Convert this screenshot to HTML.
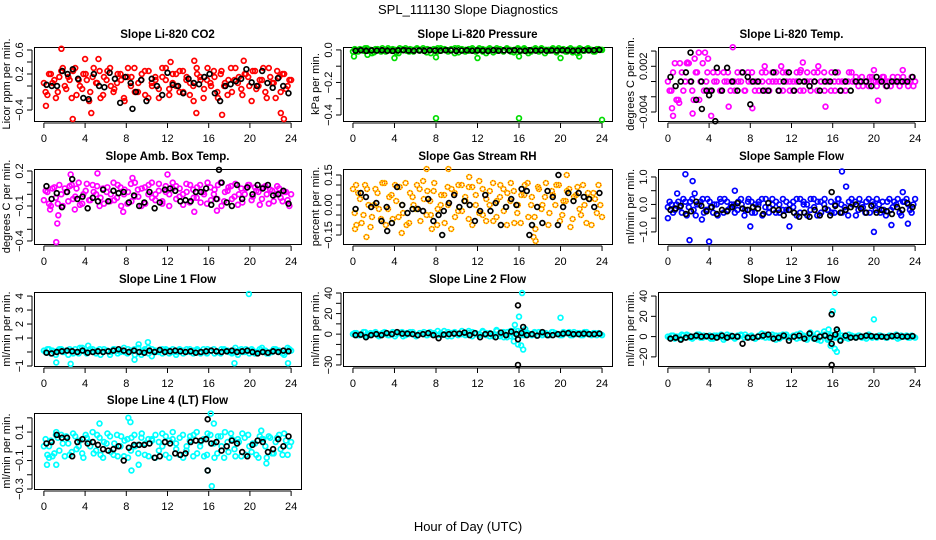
<!DOCTYPE html>
<html><head><meta charset="utf-8"><style>
html,body{margin:0;padding:0;background:#fff}
svg{display:block;font-family:"Liberation Sans",Arial,sans-serif}
</style></head><body>
<svg id="chart" width="936" height="540" viewBox="0 0 936 540" xmlns="http://www.w3.org/2000/svg">
<text x="468" y="14" text-anchor="middle" font-size="13">SPL_111130  Slope Diagnostics</text>
<text x="468" y="531" text-anchor="middle" font-size="13">Hour of Day (UTC)</text>
</svg>
<script>
const xTicks=[0,4,8,12,16,20,24];
// ---- Panel 1: CO2 ----
const co2Vals=[0.05,-0.15,0.2,0.1,-0.1,0.25,0.0,0.15,-0.2,0.3,0.1,-0.05,0.2,-0.25,0.15,0.05,0.25,-0.15,0.1,0.3,-0.1,0.05,0.2,-0.2,0.15,0.0,0.3,-0.1,0.1,0.25,-0.2,0.05,0.15,-0.05,0.3,0.1,-0.15,0.2,0.0,0.25,-0.1,0.15,0.05,-0.25,0.2,0.1,-0.05,0.3,0.0,0.15,-0.2,0.25,0.05,0.1,-0.1,0.3,0.15,-0.15,0.2,0.0,0.25,-0.05,0.1,0.3,-0.2,0.15,0.05,0.25,-0.1,0.2,0.0,0.1];
const co2Vals2=[-0.1,0.2,0.05,-0.2,0.15,0.3,-0.05,0.1,0.25,-0.15,0.0,0.2,0.1,-0.1,0.3,0.05,-0.2,0.15,0.25,0.0,-0.05,0.2,0.1,-0.25,0.3,0.15,-0.1,0.05,0.2,-0.15,0.25,0.0,0.1,-0.2,0.15,0.3,-0.05,0.05,0.2,-0.1,0.25,0.1,-0.15,0.0,0.3,0.15,-0.2,0.1,0.05,0.25,-0.1,0.2,0.0,-0.15,0.3,0.1,0.05,-0.05,0.2,0.15,-0.25,0.25,0.0,0.1,-0.1,0.3,0.05,-0.2,0.15,0.2,-0.05,0.1];
const co2OutH=[0.2,1.7,2.8,4.0,4.6,5.3,12.3,14.6,14.8,17.3,19.4,23.0,23.3];
const co2OutV=[-0.33,0.62,-0.55,0.45,-0.45,0.45,0.4,0.42,-0.45,-0.48,0.42,-0.45,-0.55];
const co2Black=[0.02,0.0,0.0,0.25,0.2,0.28,0.12,-0.2,-0.22,0.2,0.0,-0.02,0.22,0.12,-0.28,0.15,0.05,-0.1,0.1,-0.25,0.12,0.0,-0.15,0.22,0.02,0.0,-0.12,0.12,0.05,0.03,0.15,0.2,-0.12,-0.25,0.0,0.03,0.08,0.12,0.28,0.06,0.0,0.25,0.05,-0.03,0.13,0.0,-0.12];
const co2BlkOutH=[8.6];
const co2BlkOutV=[-0.38];
// ---- Panel 2: Pressure ----
const presVals=[-0.01,0.0,0.005,-0.005,0.01,0.0,-0.015,0.005,-0.01,0.0,0.01,-0.005,0.0,-0.02,0.005,0.01,-0.01,0.0,0.005,-0.005,0.01,-0.015,0.0,0.005,-0.01,0.01,0.0,-0.005,0.005,-0.02,0.01,0.0,-0.01,0.005,0.0,-0.005,0.01,-0.01,0.0,0.005,-0.015,0.01,0.0,-0.005,0.005,-0.01,0.0,0.01,-0.005,0.005,-0.02,0.0,0.01,-0.01,0.005,0.0,-0.005,0.01,-0.015,0.0,0.005,-0.01,0.01,0.0,-0.02,0.005,-0.005,0.01,0.0,-0.01,0.005,0.0];
const presVals2=[0.005,-0.01,0.0,0.01,-0.005,-0.02,0.005,0.0,0.01,-0.01,0.0,0.005,-0.015,0.01,0.0,-0.005,0.005,-0.01,0.01,0.0,-0.005,0.005,-0.02,0.0,0.01,-0.005,0.005,-0.01,0.0,0.01,-0.015,0.005,0.0,-0.005,0.01,-0.01,0.0,0.005,-0.02,0.01,0.0,-0.005,0.005,-0.01,0.01,0.0,-0.015,0.005,0.0,0.01,-0.005,-0.01,0.005,0.0,0.01,-0.02,0.0,0.005,-0.005,0.01,0.0,-0.01,0.005,-0.015,0.0,0.01,-0.005,0.005,0.0,-0.01,0.005,0.0];
const presOutH=[8.0,16.0,24.0,0.1,4.0,8.0,12.0,16.0,20.0,1.4,21.8];
const presOutV=[-0.42,-0.42,-0.43,-0.04,-0.05,-0.045,-0.05,-0.04,-0.05,-0.03,-0.04];
const presBlack=[-0.005,-0.002,-0.006,-0.003,-0.004,-0.002,-0.005,-0.006,-0.003,-0.002,-0.004,-0.005,-0.003,-0.006,-0.002,-0.004,-0.005,-0.002,-0.003,-0.006,-0.004,-0.002,-0.005,-0.003,-0.004,-0.006,-0.002,-0.005,-0.003,-0.004,-0.002,-0.005,-0.006,-0.003,-0.004,-0.002,-0.005,-0.003,-0.004,-0.002,-0.003,-0.005,-0.004,-0.002,-0.003,-0.002,0.0];
const presBlkOutH=[];
const presBlkOutV=[];
// ---- Panel 3: Temp ----
const tempVals=[0.0,-0.0012,0.0024,-0.0024,0.0012,0.0,0.0024,-0.0012,0.0012,-0.0024,0.0024,0.0,-0.0012,0.0012,0.0,-0.0012,0.0012,0.0,-0.0012,0.0,0.0012,0.0,-0.0012,0.0012,0.0,-0.0012,0.0,0.0012,-0.0012,0.0,0.0012,0.0,-0.0012,0.0012,0.0,-0.0012,0.0,0.0012,-0.0012,0.0,0.0012,-0.0012,0.0,0.0012,0.0,-0.0012,0.0,0.0012,-0.0012,0.0,0.0,-0.0012,0.0012,0.0,0.0006,0.0,-0.0006,0.0,0.0006,0.0,-0.0006,0.0,0.0006,0.0,-0.0006,0.0,0.0006,0.0,0.0,-0.0006,0.0006,0.0];
const tempVals2=[-0.0012,0.0012,-0.0024,0.0024,-0.0012,0.0024,0.0,-0.0024,0.0012,0.0,-0.0012,0.0012,-0.0012,0.0,0.0012,-0.0012,0.0,0.0012,0.0,-0.0012,0.0,0.0012,-0.0012,0.0,0.0012,0.0,-0.0012,0.0,0.0012,-0.0012,0.0,0.0012,0.0,-0.0012,0.0012,0.0,-0.0012,0.0,0.0012,-0.0012,0.0,0.0,0.0012,-0.0012,0.0,0.0012,0.0,-0.0012,0.0,0.0012,-0.0012,0.0,0.0,0.0012,0.0,-0.0006,0.0006,0.0,-0.0006,0.0006,0.0,0.0,0.0006,-0.0006,0.0,0.0006,0.0,-0.0006,0.0006,0.0,0.0,-0.0006];
const tempOutH=[0.5,0.4,1.1,3.0,2.6,3.6,5.9,6.3,4.2,8.2,9.4,11.0,13.1,12.9,14.6,20.0,20.4,22.8,15.3,2.4,1.9,3.9];
const tempOutV=[-0.0045,-0.0035,-0.0028,0.0038,0.003,0.0038,-0.0033,0.0045,-0.0045,-0.0035,0.002,0.002,0.0025,0.0015,0.002,0.0015,-0.0025,0.0015,-0.0033,-0.0042,0.0025,0.003];
const tempBlack=[0.0006,-0.0006,0.0,0.0012,0.0,-0.0024,0.0,-0.0012,-0.0012,0.0018,-0.0012,0.0018,0.0,-0.0012,0.0012,0.0006,0.0,0.0,-0.0012,-0.0012,0.0012,-0.0012,0.0,0.0012,-0.0012,0.0,0.0,-0.0006,0.0,-0.0012,0.0,0.0,0.0012,-0.0012,0.0,-0.0012,0.0,0.0,0.0,-0.0006,0.0006,0.0,-0.0006,0.0,0.0,0.0,0.0,0.0006];
const tempBlkOutH=[2.2,4.6,8.0,3.3,4.0];
const tempBlkOutV=[0.0038,-0.0052,-0.003,-0.0036,-0.0018];
// ---- Panel 4: Amb box temp ----
const ambVals=[-0.05,0.02,-0.1,0.06,-0.08,0.0,0.05,-0.06,0.08,-0.02,0.1,-0.08,0.03,-0.05,0.08,0.0,-0.1,0.05,0.02,-0.06,0.1,-0.03,0.06,0.0,-0.08,0.09,-0.02,0.04,-0.1,0.06,0.0,0.1,-0.05,0.03,-0.08,0.07,0.0,0.1,-0.04,0.05,-0.09,0.02,0.08,-0.03,0.06,-0.07,0.0,0.1,-0.05,0.04,0.08,-0.1,0.02,0.06,-0.04,0.09,0.0,-0.07,0.05,0.08,-0.02,0.03,-0.09,0.06,0.0,0.04,-0.06,0.07,-0.03,0.02,-0.05,0.0];
const ambVals2=[0.03,-0.08,0.05,-0.03,0.08,-0.1,0.02,0.07,-0.04,0.05,-0.09,0.0,0.09,-0.05,0.02,0.07,-0.03,-0.08,0.06,0.0,-0.05,0.08,-0.1,0.04,0.02,-0.06,0.1,-0.02,0.05,-0.08,0.08,-0.03,0.0,0.09,-0.06,0.02,-0.1,0.05,0.07,-0.02,0.0,0.09,-0.07,0.04,-0.03,0.08,0.02,-0.08,0.06,0.0,-0.04,0.1,-0.06,0.03,0.07,-0.02,-0.09,0.05,0.0,0.08,-0.05,0.06,0.02,-0.04,0.07,-0.08,0.03,0.0,0.05,-0.06,0.02,-0.1];
const ambOutH=[1.2,1.3,1.4,2.6,5.2,7.7,8.6,12.0,14.6,16.8,0.6,3.0];
const ambOutV=[-0.41,-0.25,-0.18,0.17,0.18,-0.15,0.14,0.17,-0.15,-0.14,-0.13,-0.13];
const ambBlack=[0.07,-0.04,0.01,-0.11,0.02,0.13,-0.04,-0.02,-0.12,-0.03,-0.06,0.04,-0.06,0.03,0.01,0.02,-0.07,-0.01,-0.1,-0.07,0.02,-0.12,-0.07,0.04,0.05,0.03,-0.06,-0.05,-0.06,0.02,0.02,0.05,-0.09,-0.04,0.1,-0.07,-0.1,0.08,-0.04,0.06,0.0,0.08,0.05,0.08,-0.01,0.0,0.03,-0.08];
const ambBlkOutH=[17.0];
const ambBlkOutV=[0.21];
// ---- Panel 5: Gas stream RH ----
const rhVals=[0.08,-0.1,0.03,-0.05,0.08,-0.11,0.0,0.06,-0.07,0.11,-0.02,0.05,0.1,-0.06,0.0,0.11,-0.09,0.04,-0.02,0.08,0.12,-0.05,0.02,0.07,-0.1,0.0,0.05,0.09,-0.12,0.06,-0.03,0.1,0.04,-0.07,0.09,0.0,0.12,-0.05,0.03,0.07,-0.08,0.02,0.1,-0.03,0.06,0.11,-0.09,0.0,0.05,0.1,-0.06,0.04,-0.12,0.08,0.0,0.11,-0.04,0.05,0.1,-0.08,0.02,0.07,-0.11,0.04,0.09,-0.05,0.0,0.06,-0.1,0.03,0.1,-0.06];
const rhVals2=[-0.04,0.06,-0.09,0.1,0.0,-0.06,0.08,-0.02,0.11,-0.1,0.04,-0.07,0.02,0.09,-0.04,-0.1,0.06,0.0,0.1,-0.08,0.03,0.07,-0.05,0.11,-0.02,0.05,-0.09,0.0,0.08,-0.06,0.1,-0.03,0.02,0.09,-0.1,0.05,-0.04,0.08,-0.08,0.0,0.11,-0.06,0.04,0.08,-0.1,0.02,0.07,-0.04,-0.09,0.05,0.11,0.0,-0.06,0.09,-0.02,0.04,-0.1,0.07,0.0,0.1,-0.05,0.02,0.08,-0.07,0.05,-0.02,0.1,-0.09,0.03,0.06,-0.04,0.0];
const rhOutH=[7.1,9.2,1.3,4.7,17.6,17.4,0.2,20.6,0.3,11.2,7.6];
const rhOutV=[0.18,0.18,-0.16,-0.14,-0.18,-0.16,-0.12,0.15,0.1,0.14,-0.12];
const rhBlack=[-0.02,0.06,0.04,-0.01,0.01,-0.08,-0.01,-0.09,0.09,0.0,-0.04,-0.02,-0.02,-0.03,0.03,-0.08,-0.05,-0.03,0.01,0.05,-0.01,0.02,0.0,-0.08,-0.03,0.05,-0.03,0.01,-0.1,-0.01,0.03,0.0,0.08,0.07,-0.1,-0.01,-0.09,0.07,0.04,-0.1,-0.01,0.06,0.02,0.06,0.04,0.03,-0.01,0.06];
const rhBlkOutH=[19.8,8.6,3.3,17.0];
const rhBlkOutV=[0.15,-0.15,-0.13,-0.15];
// ---- Panel 6: Sample flow ----
const sfVals=[-0.1,0.0,-0.2,0.1,-0.3,0.1,-0.1,0.2,-0.4,0.0,0.2,-0.2,0.1,-0.3,0.0,0.2,-0.3,0.1,-0.1,0.0,-0.2,0.2,-0.4,0.1,0.1,-0.3,0.0,0.2,-0.1,-0.3,0.2,-0.3,0.0,-0.2,0.1,-0.2,0.1,-0.4,0.2,0.0,-0.4,0.2,-0.1,0.1,-0.3,0.2,-0.2,-0.3,0.0,0.2,-0.3,-0.2,0.1,0.0,-0.4,0.2,-0.1,0.1,-0.3,0.0,0.2,-0.3,-0.2,0.1,-0.2,0.1,0.2,-0.4,0.1,0.0,-0.3,0.2];
const sfVals2=[0.1,-0.3,0.0,-0.1,0.2,-0.4,0.1,-0.2,0.0,0.1,-0.3,0.2,-0.1,0.0,-0.4,0.1,0.2,-0.2,0.0,-0.3,0.1,0.0,-0.2,0.2,-0.3,0.0,0.1,-0.4,0.2,-0.1,0.0,0.1,-0.3,0.2,-0.2,0.0,-0.1,0.2,-0.3,0.1,0.0,-0.2,0.2,-0.4,0.1,0.0,-0.2,0.1,-0.3,0.2,0.0,-0.1,-0.4,0.2,0.1,-0.2,0.0,-0.3,0.2,0.1,-0.2,0.0,0.1,-0.4,0.2,-0.1,0.0,-0.3,0.1,0.2,-0.2,0.0];
const sfOutH=[1.7,2.1,4.0,2.4,16.9,17.3,20.0,6.5,8.0,21.7,23.3,0.0,0.9,2.6,22.8,11.8,3.3];
const sfOutV=[1.1,-1.3,-1.35,0.85,1.2,0.65,-1.0,0.5,-0.8,-0.75,-0.7,-0.5,0.4,0.4,0.45,-0.8,-0.55];
const sfBlack=[-0.2,-0.15,-0.05,-0.35,-0.25,0.1,-0.05,-0.25,-0.1,-0.35,-0.2,-0.25,-0.1,0.05,-0.15,-0.2,-0.1,-0.15,-0.35,0.05,-0.2,-0.2,-0.4,-0.2,-0.3,-0.45,-0.3,-0.45,-0.2,-0.4,-0.15,-0.4,-0.05,-0.3,-0.2,-0.1,0.0,-0.15,-0.3,-0.05,-0.3,-0.2,-0.25,-0.35,-0.1,-0.2,0.05,-0.1];
const sfBlkOutH=[15.9];
const sfBlkOutV=[0.45];
// ---- Panel 7: Line 1 flow ----
const l1Vals=[0.1,0.2,-0.1,0.0,0.1,0.2,0.0,-0.2,0.1,0.2,-0.1,0.3,0.0,0.1,0.2,-0.1,0.2,0.0,0.1,-0.2,0.2,0.1,0.0,0.3,-0.1,0.1,0.2,0.0,-0.2,0.2,0.3,-0.3,0.1,0.0,0.2,0.1,-0.1,0.2,0.0,0.1,-0.1,0.2,0.0,0.1,0.2,-0.1,0.0,0.2,0.1,-0.1,0.0,0.2,0.1,0.0,-0.1,0.3,0.1,0.0,0.2,-0.1,0.1,0.0,0.2,0.1,-0.1,0.0,0.2,0.1,0.0,-0.2,0.3,0.1];
const l1Vals2=[0.0,0.2,0.1,-0.2,0.2,0.0,0.1,0.2,-0.1,0.0,0.3,0.1,-0.1,0.2,0.0,0.1,-0.2,0.2,0.1,0.0,0.2,-0.1,0.1,0.0,0.2,0.1,-0.2,0.3,0.0,0.1,-0.1,0.2,0.0,0.1,-0.1,0.2,0.1,0.0,-0.2,0.2,0.1,0.0,0.2,-0.1,0.1,0.0,0.2,-0.1,0.1,0.2,0.0,-0.1,0.2,0.1,0.0,0.1,-0.2,0.2,0.0,0.1,0.2,-0.1,0.0,0.3,0.1,-0.1,0.0,0.2,0.1,-0.1,0.0,0.2];
const l1OutH=[1.2,2.6,18.5,19.9,23.7,10.1,9.2,8.8,4.3];
const l1OutV=[-0.75,-0.85,-0.8,4.15,-0.8,0.7,0.55,-0.55,0.45];
const l1Black=[-0.05,-0.1,0.0,0.05,0.1,0.05,0.0,0.1,-0.05,0.0,0.05,0.0,0.05,0.1,0.2,0.1,0.0,0.1,0.0,-0.05,0.1,0.0,0.15,0.0,0.05,0.1,0.05,0.0,0.05,-0.05,0.0,0.05,0.1,0.05,0.0,0.05,0.1,0.0,0.05,0.1,0.0,-0.1,0.0,-0.05,0.05,0.0,0.1,0.05];
const l1BlkOutH=[];
const l1BlkOutV=[];
// ---- Panel 8: Line 2 flow ----
const l2Vals=[0,1,-1,2,-2,1,1,-1,0,2,-1,1,-2,1,2,-1,0,2,-2,1,0,-1,2,0,-1,1,3,-2,1,2,-1,0,1,3,-2,1,0,2,-1,1,-2,3,0,-3,2,1,-2,3,-1,2,0,-1,1,2,-1,1,-1,2,0,-1,2,1,-1,2,1,-1,2,0,-1,1,1,-1];
const l2Vals2=[1,-1,0,2,-1,0,2,-2,1,0,-1,2,0,1,-2,1,2,0,-1,1,2,-1,0,1,3,-1,0,2,-2,1,0,3,-1,1,2,0,-1,3,1,-2,0,4,-2,2,-3,-2,3,-1,2,-1,1,0,2,-1,1,0,-1,2,1,0,-1,1,2,-1,0,1,-1,2,0,1,-1,0];
const l2OutH=[16.3,16.0,15.9,16.4,16.2,15.6,20.0,16.6,15.5,15.2];
const l2OutV=[40,17,-10,-15,-11,9,16,5,-7,3];
const l2Black=[-1.0,-0.5,-3.0,-1.0,0.0,-1.0,1.0,0.0,2.0,0.5,0.5,0.0,-1.0,0.0,1.0,-1.0,-4.0,-0.5,0.0,0.5,0.5,1.5,-1.0,1.0,-3.0,0.0,0.5,-3.0,1.5,-1.0,2.5,0.0,1.0,-1.0,0.0,-1.5,2.0,-1.0,-1.0,0.0,0.5,1.0,0.0,0.0,0.5,0.0,0.0,0.5];
const l2BlkOutH=[15.9,15.9,15.9,16.4];
const l2BlkOutV=[28,-30,-5,7];
// ---- Panel 9: Line 3 flow ----
const l3Vals=[0,1,-2,0,2,-1,1,-2,0,2,-1,0,1,-2,1,0,-3,2,0,-1,1,2,-1,0,1,-2,0,3,-1,0,2,-3,1,0,2,-1,1,-2,3,0,-1,2,0,-3,1,2,-2,1,-1,0,1,-1,2,0,-1,1,0,-2,1,0,-1,1,0,-1,1,0,-2,1,0,-1,1,-1];
const l3Vals2=[-1,1,0,-2,1,2,-1,0,2,-1,1,0,-2,1,0,2,-1,0,1,-2,0,1,2,-1,0,-2,1,0,2,-1,0,1,-2,2,0,-1,0,2,-1,1,-3,4,-2,3,-4,5,-3,2,0,-1,1,0,-2,1,0,1,-1,0,2,-1,0,1,0,-1,1,0,2,-1,0,1,-1,0];
const l3OutH=[16.2,16.0,16.4,16.2,15.8,20.0,15.6,16.5,16.7];
const l3OutV=[43,25,-15,-12,-9,17,7,5,-3];
const l3Black=[-2.0,-1.0,-3.0,-1.0,0.0,1.0,0.0,0.5,0.0,-1.0,1.0,-1.0,0.5,0.0,-7.0,-1.0,-1.0,0.0,1.0,2.0,-2.0,-1.0,1.0,-4.0,0.0,1.0,-2.0,3.0,-2.0,0.0,1.0,-1.0,2.0,-4.0,1.0,-1.0,-1.0,0.0,1.0,0.5,0.0,0.0,-0.5,0.5,1.0,0.0,0.0,0.5];
const l3BlkOutH=[15.9,15.9,15.9,16.4];
const l3BlkOutV=[22,-28,-7,7];
// ---- Panel 10: Line 4 flow ----
const l4Vals=[0.0,-0.06,0.04,-0.05,0.06,0.08,-0.07,0.02,-0.04,0.07,0.0,-0.05,0.08,0.03,0.1,-0.03,0.06,-0.08,0.02,0.07,-0.06,0.08,0.0,-0.07,0.05,-0.03,0.08,0.01,0.06,-0.06,0.05,0.05,-0.08,0.03,0.09,-0.06,0.04,0.1,-0.02,0.06,-0.08,0.0,0.07,0.08,-0.05,0.03,-0.07,0.09,0.02,-0.08,0.07,0.0,0.1,-0.04,0.05,-0.07,0.03,0.09,-0.06,0.0,0.02,-0.06,0.07,0.05,-0.08,0.06,-0.05,0.06,-0.02,0.09,-0.06,0.03];
const l4Vals2=[0.05,0.0,-0.07,0.08,-0.03,0.02,0.07,-0.06,0.09,-0.02,0.04,-0.08,0.06,0.0,-0.05,0.08,-0.06,0.03,0.09,-0.04,0.02,-0.07,0.07,0.04,-0.08,0.06,0.0,-0.05,0.09,0.02,-0.07,0.04,0.08,-0.03,0.0,0.07,-0.08,0.05,0.02,-0.06,0.08,-0.03,0.04,-0.07,0.1,0.0,0.05,-0.06,0.08,0.02,-0.05,0.07,-0.08,0.03,0.09,-0.02,0.05,-0.07,0.06,0.08,-0.04,0.02,-0.08,0.05,0.0,0.07,-0.05,0.03,0.08,-0.06,0.04,0.0];
const l4OutH=[0.3,0.5,1.2,5.4,8.2,8.4,16.2,16.5,16.3,15.9,21.6,9.2,8.5,1.2,21.1];
const l4OutV=[-0.13,-0.08,-0.13,0.16,0.2,0.17,0.23,0.16,-0.28,-0.17,-0.12,-0.13,-0.17,0.1,0.11];
const l4Black=[0.02,0.03,0.08,0.06,0.06,-0.07,0.03,0.05,0.02,0.03,0.01,-0.02,-0.03,-0.02,0.0,-0.1,-0.01,0.01,0.01,0.01,0.02,-0.08,-0.07,0.03,0.02,-0.05,-0.06,-0.05,0.03,0.04,0.04,0.05,0.02,0.03,-0.03,0.0,0.04,0.02,-0.04,-0.07,0.01,0.04,0.03,-0.04,-0.02,0.05,0.0,0.07];
const l4BlkOutH=[15.9,15.9];
const l4BlkOutV=[0.19,-0.17];

const svg=document.getElementById('chart');
const NS='http://www.w3.org/2000/svg';
function mk(tag,attrs,parent){const e=document.createElementNS(NS,tag);for(const k in attrs)e.setAttribute(k,attrs[k]);(parent||svg).appendChild(e);return e;}
const colL=[34,343,658], colR=[301,612,925], rowT=[47,169,292,413], rowB=[121,244,366,489];
const panels=[
 {c:0,r:0,name:'co2',title:'Slope Li-820 CO2',ylab:'Licor ppm per min.',ylim:[-0.583,0.65],ticks:[-0.4,-0.2,0,0.2,0.4,0.6],labs:[-0.4,0.2,0.6],fmt:v=>v.toFixed(1),col:'#ff0000',vals:co2Vals,vals2:co2Vals2,oh:co2OutH,ov:co2OutV,blk:co2Black,bh:co2BlkOutH,bv:co2BlkOutV},
 {c:1,r:0,name:'pressure',title:'Slope Li-820 Pressure',ylab:'kPa per min.',ylim:[-0.437,0.018],ticks:[0,-0.1,-0.2,-0.3,-0.4],labs:[0,-0.2,-0.4],fmt:v=>v.toFixed(1),col:'#00dd00',vals:presVals,vals2:presVals2,oh:presOutH,ov:presOutV,blk:presBlack,bh:presBlkOutH,bv:presBlkOutV},
 {c:2,r:0,name:'temp',title:'Slope Li-820 Temp.',ylab:'degrees C per min.',ylim:[-0.00518,0.00453],ticks:[0.004,0.002,0,-0.002,-0.004],labs:[0.002,-0.004],fmt:v=>v.toFixed(3),col:'#ff00ff',vals:tempVals,vals2:tempVals2,oh:tempOutH,ov:tempOutV,blk:tempBlack,bh:tempBlkOutH,bv:tempBlkOutV},
 {c:0,r:1,name:'amb-box-temp',title:'Slope Amb. Box Temp.',ylab:'degrees C per min.',ylim:[-0.426,0.217],ticks:[0.2,0.1,0,-0.1,-0.2,-0.3,-0.4],labs:[0.2,-0.1,-0.4],fmt:v=>v.toFixed(1),col:'#ff00ff',vals:ambVals,vals2:ambVals2,oh:ambOutH,ov:ambOutV,blk:ambBlack,bh:ambBlkOutH,bv:ambBlkOutV},
 {c:1,r:1,name:'gas-stream-rh',title:'Slope Gas Stream RH',ylab:'percent per min.',ylim:[-0.195,0.18],ticks:[0.15,0.1,0.05,0,-0.05,-0.1,-0.15],labs:[0.15,0,-0.15],fmt:v=>v.toFixed(2),col:'#ffd000',col2:'#ff4000',vals:rhVals,vals2:rhVals2,oh:rhOutH,ov:rhOutV,blk:rhBlack,bh:rhBlkOutH,bv:rhBlkOutV},
 {c:2,r:1,name:'sample-flow',title:'Slope Sample Flow',ylab:'ml/min per min.',ylim:[-1.44,1.29],ticks:[1,0.5,0,-0.5,-1],labs:[1,0,-1],fmt:v=>v.toFixed(1),col:'#0000ff',vals:sfVals,vals2:sfVals2,oh:sfOutH,ov:sfOutV,blk:sfBlack,bh:sfBlkOutH,bv:sfBlkOutV},
 {c:0,r:2,name:'line1-flow',title:'Slope Line 1 Flow',ylab:'ml/min per min.',ylim:[-1.0,4.29],ticks:[4,3,2,1,0,-1],labs:[4,3,2,1,-1],fmt:v=>String(v),col:'#00ffff',vals:l1Vals,vals2:l1Vals2,oh:l1OutH,ov:l1OutV,blk:l1Black,bh:l1BlkOutH,bv:l1BlkOutV},
 {c:1,r:2,name:'line2-flow',title:'Slope Line 2 Flow',ylab:'ml/min per min.',ylim:[-31,41],ticks:[40,30,20,10,0,-10,-20,-30],labs:[40,20,0,-30],fmt:v=>String(v),col:'#00ffff',vals:l2Vals,vals2:l2Vals2,oh:l2OutH,ov:l2OutV,blk:l2Black,bh:l2BlkOutH,bv:l2BlkOutV},
 {c:2,r:2,name:'line3-flow',title:'Slope Line 3 Flow',ylab:'ml/min per min.',ylim:[-29,44],ticks:[40,20,0,-20],labs:[40,20,0,-20],fmt:v=>String(v),col:'#00ffff',vals:l3Vals,vals2:l3Vals2,oh:l3OutH,ov:l3OutV,blk:l3Black,bh:l3BlkOutH,bv:l3BlkOutV},
 {c:0,r:3,name:'line4-flow',title:'Slope Line 4 (LT) Flow',ylab:'ml/min per min.',ylim:[-0.3,0.234],ticks:[0.2,0.1,0,-0.1,-0.2,-0.3],labs:[0.1,-0.1,-0.3],fmt:v=>v.toFixed(1),col:'#00ffff',vals:l4Vals,vals2:l4Vals2,oh:l4OutH,ov:l4OutV,blk:l4Black,bh:l4BlkOutH,bv:l4BlkOutV}
];
panels.forEach(p=>{
 const L=colL[p.c],R=colR[p.c],T=rowT[p.r],B=rowB[p.r],W=R-L;
 const xs=h=>L+(h+0.96)/25.92*W;
 const ys=v=>B-(v-p.ylim[0])/(p.ylim[1]-p.ylim[0])*(B-T);
 const g=mk('g',{});
 
 
 const t=mk('text',{x:(L+R)/2,y:T-9,'text-anchor':'middle','font-size':'11.5','font-weight':'bold'},g);t.textContent=p.title;
 
 
 const cy=(T+B)/2, ylx=L-24;
 const yl=mk('text',{x:ylx,y:cy,'text-anchor':'middle','font-size':'11',transform:`rotate(-90 ${ylx} ${cy})`},g);yl.textContent=p.ylab;
 
 
 const xa=mk('g',{},g);
 
 
 mk('line',{x1:xs(0),x2:xs(24),y1:B+2,y2:B+2,stroke:'#000'},xa);
 xTicks.forEach(h=>{mk('line',{x1:xs(h),x2:xs(h),y1:B+2,y2:B+7,stroke:'#000'},xa);
  const tl=mk('text',{x:xs(h),y:B+21,'text-anchor':'middle','font-size':'11'},xa);tl.textContent=h;
  
  });
 const ya=mk('g',{},g);
 
 
 const tv=p.ticks.map(ys);
 mk('line',{x1:L-2,x2:L-2,y1:Math.min(...tv),y2:Math.max(...tv),stroke:'#000'},ya);
 p.ticks.forEach(v=>mk('line',{x1:L-7,x2:L-2,y1:ys(v),y2:ys(v),stroke:'#000'},ya));
 p.labs.forEach(v=>{const lx=L-11,ly=ys(v);const tl=mk('text',{x:lx,y:ly,'text-anchor':'middle','font-size':'11',transform:`rotate(-90 ${lx} ${ly})`},ya);tl.textContent=p.fmt(v).replace('-','\u2212');
  
  });
 const bx=mk('rect',{x:L+0.5,y:T+0.5,width:W,height:B-T,fill:'none',stroke:'#000'},g);
 
 
 const pts=mk('g',{},g);
 
 
 function dot(h,v,color,nm){
  const c=mk('circle',{cx:xs(h),cy:ys(v),r:2.4,fill:'none',stroke:color,'stroke-width':1.7},pts);
  
  
  if(p.col2&&color===p.col){const c2=mk('circle',{cx:xs(h),cy:ys(v),r:2.4,fill:'none',stroke:p.col2,'stroke-width':1.2,'stroke-dasharray':'1 1.5'},pts);
   
   }
 }
 const n=p.vals.length;
 p.vals.forEach((v,i)=>dot(i*24/(n-1),v,p.col,'point'));
 const n2=p.vals2.length;
 p.vals2.forEach((v,i)=>dot((i+0.5)*24/n2,v,p.col,'point'));
 p.oh.forEach((h,i)=>dot(h,p.ov[i],p.col,'point-outlier'));
 const m=p.blk.length;
 p.blk.forEach((v,i)=>dot((i+0.5)*24/m,v,'#000','point-black'));
 p.bh.forEach((h,i)=>dot(h,p.bv[i],'#000','point-black-outlier'));
});
</script>
</body></html>
